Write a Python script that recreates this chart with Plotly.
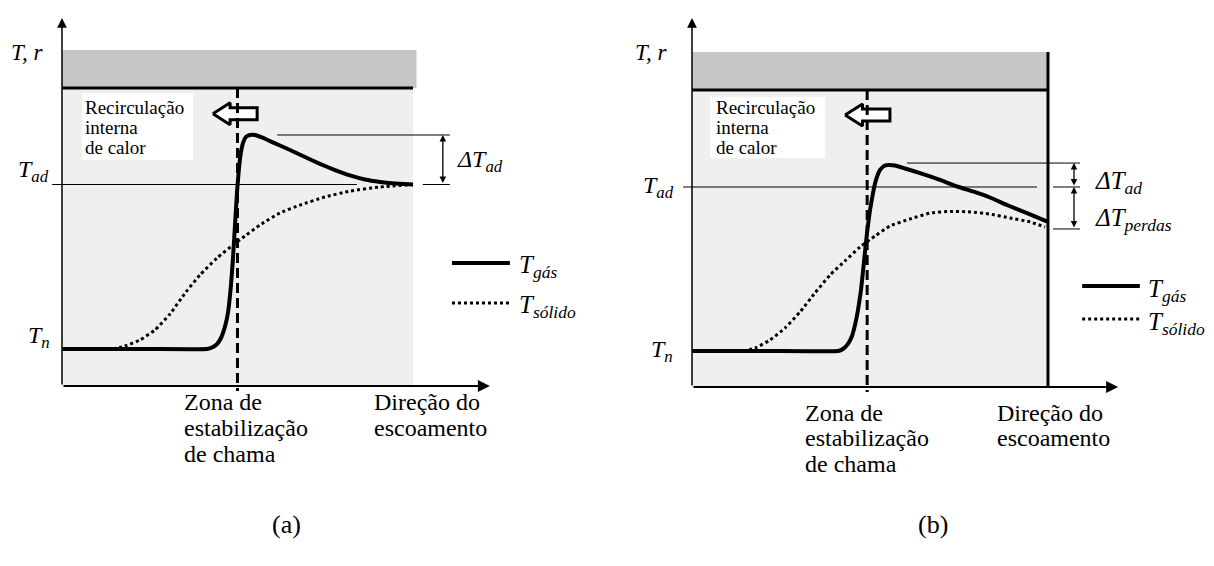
import plotly.graph_objects as go

# ---------------- data (normalised: T_n = 0, T_ad = 1; x = 0 .. 1 along the reactor) -------------
gas_a_x = [0.0, 0.25, 0.4131, 0.4274, 0.4416, 0.4530, 0.4615, 0.4701, 0.4758, 0.4815, 0.4872, 0.4929,
           0.4986, 0.5043, 0.5100, 0.5157, 0.5242, 0.5356, 0.5499, 0.5698, 0.5926, 0.6211, 0.6496,
           0.6923, 0.7350, 0.7778, 0.8205, 0.8632, 0.9060, 0.9487, 1.0]
gas_a_T = [0.0, 0.0, 0.0, 0.009, 0.030, 0.067, 0.116, 0.188, 0.267, 0.389, 0.553, 0.754,
           0.954, 1.100, 1.198, 1.252, 1.289, 1.301, 1.301, 1.286, 1.264, 1.237, 1.210,
           1.167, 1.125, 1.088, 1.055, 1.030, 1.015, 1.006, 1.0]
solid_a_x = [0.1453, 0.1795, 0.2222, 0.2650, 0.3077, 0.3533, 0.3932, 0.4416, 0.4872, 0.5214, 0.5641,
             0.6211, 0.6781, 0.7493, 0.8205, 0.9060, 1.0]
solid_a_T = [0.0, 0.018, 0.055, 0.116, 0.213, 0.347, 0.450, 0.553, 0.632, 0.687, 0.754,
             0.827, 0.875, 0.924, 0.960, 0.985, 1.0]

gas_b_x = [0.0, 0.22, 0.4101, 0.4242, 0.4382, 0.4494, 0.4579, 0.4663, 0.4747, 0.4831, 0.4916, 0.5,
           0.5084, 0.5169, 0.5281, 0.5393, 0.5506, 0.5702, 0.5983, 0.6404, 0.6966, 0.7444, 0.7893,
           0.8371, 0.8848, 0.9410, 1.0]
gas_b_T = [0.0, 0.0, 0.0, 0.012, 0.043, 0.091, 0.159, 0.250, 0.372, 0.543, 0.720, 0.860,
           0.963, 1.043, 1.104, 1.128, 1.134, 1.131, 1.113, 1.085, 1.043, 1.003, 0.973,
           0.936, 0.890, 0.841, 0.787]
solid_b_x = [0.1433, 0.1770, 0.2191, 0.2612, 0.3034, 0.3455, 0.3876, 0.4298, 0.4719, 0.5140, 0.5562,
             0.6124, 0.6685, 0.7247, 0.7809, 0.8371, 0.8933, 0.9494, 0.9916]
solid_b_T = [0.0, 0.018, 0.067, 0.140, 0.238, 0.354, 0.463, 0.549, 0.634, 0.701, 0.762,
             0.805, 0.841, 0.851, 0.848, 0.835, 0.811, 0.787, 0.756]

T_n, T_ad = 0.0, 1.0
peak_a, peak_b = 1.301, 1.146          # top of the ΔT_ad brackets
loss_b = 0.744                          # bottom of the ΔT_perdas bracket
flame_a, flame_b = 0.5, 0.492           # flame stabilisation zone
wall_top = [1.587, 1.591]               # wall (top thick line)
band_top = [1.818, 1.823]               # top of hatched band
axis_origin = [-0.225, -0.22]
axis_ytip = [2.012, 2.03]
axis_xtip = [1.219, 1.197]

FONT = "Liberation Serif, 'Times New Roman', Times, 'DejaVu Serif', serif"
fig = go.Figure()

BAND = "#c6c6c6"
LIGHT = "#efefef"

shapes = []
annotations = []


def txt(xr, yr, x, y, s, size=25, xanchor="left", yanchor="middle"):
    annotations.append(dict(x=x, y=y, xref=xr, yref=yr, text=s, showarrow=False,
                            xanchor=xanchor, yanchor=yanchor,
                            font=dict(family=FONT, size=size, color="black")))


def arrow(xr, yr, x, y, ax, ay, width=1.5, head=2, size=1.2, side="end"):
    annotations.append(dict(x=x, y=y, ax=ax, ay=ay, xref=xr, yref=yr, axref=xr, ayref=yr,
                            text="", showarrow=True, arrowhead=head, startarrowhead=head,
                            arrowsize=size, startarrowsize=size, arrowwidth=width,
                            arrowcolor="black", arrowside=side, standoff=0, startstandoff=0))


def line(xr, yr, x0, y0, x1, y1, width=1, dash=None, layer="above"):
    d = dict(type="line", xref=xr, yref=yr, x0=x0, y0=y0, x1=x1, y1=y1, layer=layer,
             line=dict(color="black", width=width))
    if dash:
        d["line"]["dash"] = dash
    shapes.append(d)


def rect(xr, yr, x0, y0, x1, y1, color):
    shapes.append(dict(type="rect", xref=xr, yref=yr, x0=x0, y0=y0, x1=x1, y1=y1,
                       layer="below", fillcolor=color, line=dict(width=0)))


def panel(i, gx, gT, sx, sT, flame, box, arrow_c, legend_T, legend_x, right_wall):
    xr = "x" if i == 0 else "x2"
    yr = "y" if i == 0 else "y2"
    # backgrounds
    rect(xr, yr, 0, wall_top[i], 1.01 if i == 0 else 1.0, band_top[i], BAND)
    rect(xr, yr, 0, axis_origin[i], 1.0, wall_top[i], LIGHT)
    rect(xr, yr, box[0], box[1], box[2], box[3], "white")
    # hollow arrow (internal heat recirculation)
    c = arrow_c
    h, b = 0.067, 0.036
    ax_ = [0.430, 0.479, 0.479, 0.556, 0.556, 0.479, 0.479, 0.430]
    ay_ = [c, c + h, c + b, c + b, c - b, c - b, c - h, c]
    fig.add_trace(go.Scatter(x=ax_, y=ay_, xaxis=xr, yaxis=yr, mode="lines", fill="toself",
                             fillcolor="white", line=dict(color="black", width=3),
                             hoverinfo="skip"))
    # curves
    fig.add_trace(go.Scatter(x=sx, y=sT, xaxis=xr, yaxis=yr, mode="lines",
                             line=dict(color="black", width=3, dash="dot", shape="spline", smoothing=0.5),
                             hoverinfo="skip"))
    fig.add_trace(go.Scatter(x=gx, y=gT, xaxis=xr, yaxis=yr, mode="lines",
                             line=dict(color="black", width=4, shape="spline", smoothing=0.3),
                             hoverinfo="skip"))
    # legend samples
    fig.add_trace(go.Scatter(x=legend_x, y=[legend_T[0]] * 2, xaxis=xr, yaxis=yr, mode="lines",
                             line=dict(color="black", width=4), hoverinfo="skip"))
    fig.add_trace(go.Scatter(x=legend_x, y=[legend_T[1]] * 2, xaxis=xr, yaxis=yr, mode="lines",
                             line=dict(color="black", width=3, dash="dot"), hoverinfo="skip"))
    # wall line and flame zone
    line(xr, yr, 0, wall_top[i], 1.0, wall_top[i], width=3)
    line(xr, yr, flame, wall_top[i], flame, axis_origin[i] - 0.03, width=3, dash="10px,5px")
    if right_wall:
        line(xr, yr, 1.0, axis_origin[i], 1.0, band_top[i], width=3)
    # axes
    arrow(xr, yr, 0, axis_ytip[i], 0, axis_origin[i], width=1.5, size=1.3)
    arrow(xr, yr, axis_xtip[i], axis_origin[i], 0, axis_origin[i], width=2, size=1.2)
    return xr, yr


# ---------------- panel (a) ----------------
xr, yr = panel(0, gas_a_x, gas_a_T, solid_a_x, solid_a_T, flame_a,
               [0.057, 1.149, 0.373, 1.556], 1.43, [0.523, 0.28], [1.111, 1.276], False)
line(xr, yr, -0.028, T_ad, 0.84, T_ad, width=1)
line(xr, yr, 0.613, peak_a, 1.105, peak_a, width=1)
line(xr, yr, 1.028, T_ad, 1.105, T_ad, width=1)
arrow(xr, yr, 1.085, peak_a, 1.085, T_ad, width=1.3, head=2, size=1.0, side="end+start")
txt(xr, yr, -0.150, 1.80, "<i>T, r</i>", size=23)
txt(xr, yr, -0.130, 1.08, "<i>T<sub>ad</sub></i>", size=24)
txt(xr, yr, -0.102, 0.07, "<i>T<sub>n</sub></i>", size=24)
txt(xr, yr, 1.12, 1.14, "<i>ΔT<sub>ad</sub></i>", size=24)
txt(xr, yr, 1.296, 0.50, "<i>T<sub>gás</sub></i>")
txt(xr, yr, 1.296, 0.26, "<i>T<sub>sólido</sub></i>")
for k, s in enumerate(["Recirculação", "interna", "de calor"]):
    txt(xr, yr, 0.06, 1.47 - 0.122 * k, s, size=19)
for k, s in enumerate(["Zona de", "estabilização", "de chama"]):
    txt(xr, yr, 0.342, -0.325 - 0.156 * k, s, size=24)
for k, s in enumerate(["Direção do", "escoamento"]):
    txt(xr, yr, 0.883, -0.325 - 0.156 * k, s, size=24)
txt(xr, yr, 0.641, -1.064, "(a)", size=26, xanchor="center")

# ---------------- panel (b) ----------------
xr, yr = panel(1, gas_b_x, gas_b_T, solid_b_x, solid_b_T, flame_b,
               [0.051, 1.177, 0.374, 1.549], 1.439, [0.396, 0.195], [1.096, 1.258], True)
line(xr, yr, -0.025, T_ad, 0.969, T_ad, width=1)
line(xr, yr, 0.604, peak_b, 1.09, peak_b, width=1)
line(xr, yr, 1.014, T_ad, 1.09, T_ad, width=1)
line(xr, yr, 1.014, loss_b, 1.09, loss_b, width=1)
arrow(xr, yr, 1.073, peak_b, 1.073, T_ad, width=1.3, head=2, size=1.0, side="end+start")
arrow(xr, yr, 1.073, T_ad, 1.073, loss_b, width=1.3, head=2, size=1.0, side="end+start")
txt(xr, yr, -0.166, 1.82, "<i>T, r</i>", size=23)
txt(xr, yr, -0.143, 1.0, "<i>T<sub>ad</sub></i>", size=24)
txt(xr, yr, -0.12, 0.0, "<i>T<sub>n</sub></i>", size=24)
txt(xr, yr, 1.126, 1.03, "<i>ΔT<sub>ad</sub></i>")
txt(xr, yr, 1.126, 0.80, "<i>ΔT<sub>perdas</sub></i>")
txt(xr, yr, 1.275, 0.37, "<i>T<sub>gás</sub></i>")
txt(xr, yr, 1.275, 0.17, "<i>T<sub>sólido</sub></i>")
for k, s in enumerate(["Recirculação", "interna", "de calor"]):
    txt(xr, yr, 0.062, 1.482 - 0.122 * k, s, size=19)
for k, s in enumerate(["Zona de", "estabilização", "de chama"]):
    txt(xr, yr, 0.312, -0.375 - 0.156 * k, s, size=24)
for k, s in enumerate(["Direção do", "escoamento"]):
    txt(xr, yr, 0.851, -0.375 - 0.156 * k, s, size=24)
txt(xr, yr, 0.677, -1.055, "(b)", size=26, xanchor="center")

ax_common = dict(visible=False, showgrid=False, zeroline=False, fixedrange=True)
fig.update_layout(
    width=1214, height=566, margin=dict(l=0, r=0, t=0, b=0),
    paper_bgcolor="white", plot_bgcolor="white", showlegend=False,
    font=dict(family=FONT, size=22, color="black"),
    xaxis=dict(domain=[0, 0.5], range=[-0.1766, 1.5527], anchor="y", **ax_common),
    yaxis=dict(domain=[0, 1], range=[-1.3191, 2.1216], anchor="x", **ax_common),
    xaxis2=dict(domain=[0.5, 1], range=[-0.2388, 1.4663], anchor="y2", **ax_common),
    yaxis2=dict(domain=[0, 1], range=[-1.3110, 2.1402], anchor="x2", **ax_common),
    shapes=shapes, annotations=annotations,
)

fig.write_html("out.html")
